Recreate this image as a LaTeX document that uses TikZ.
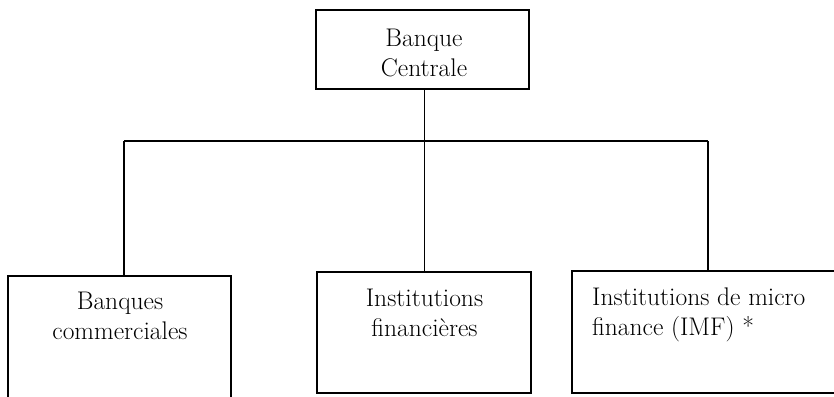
\documentclass[tikz,border=0pt]{standalone}
\usepackage{fontspec}
\begin{document}
\begin{tikzpicture}[x=1pt,y=-1pt,
  box/.style={draw, line width=1.5pt, rectangle, inner sep=0pt},
  lbl/.style={inner sep=0pt, font=\fontsize{25.5}{29.5}\selectfont, align=center},
  conn/.style={line width=1.1pt}]
\useasboundingbox (0,0) rectangle (834,396);
\clip (0,0) rectangle (834,396);
% boxes
\node[box, minimum width=213pt, minimum height=79pt] (top) at (422.5,49.5) {};
\node[box, minimum width=223pt, minimum height=126pt] (b1) at (119.5,339) {};
\node[box, minimum width=214pt, minimum height=121pt] (b2) at (424,332.5) {};
\node[box, minimum width=270pt, minimum height=122pt] (b3) at (707,332) {};
% texts
\node[lbl, anchor=north] (ttop) at (424,29) {Banque\\Centrale};
\node[lbl, anchor=north] (t1) at (120,292) {Banques\\commerciales};
\node[lbl, anchor=north] (t2) at (424.5,289) {Institutions\\financières};
\node[lbl, anchor=north west, align=left] (t3) at (592,288) {Institutions de micro\\finance (IMF) *};
% connectors
\coordinate (busL) at (124,141);
\coordinate (busM) at (424.5,141);
\coordinate (busR) at (708,141);
\draw[conn] (busM |- top.south) -- (busM);
\draw[conn] (busL) -- (busR);
\draw[conn] (busL) -- (busL |- b1.north);
\draw[conn] (busM) -- (busM |- b2.north);
\draw[conn] (busR) -- (busR |- b3.north);
\end{tikzpicture}
\end{document}
